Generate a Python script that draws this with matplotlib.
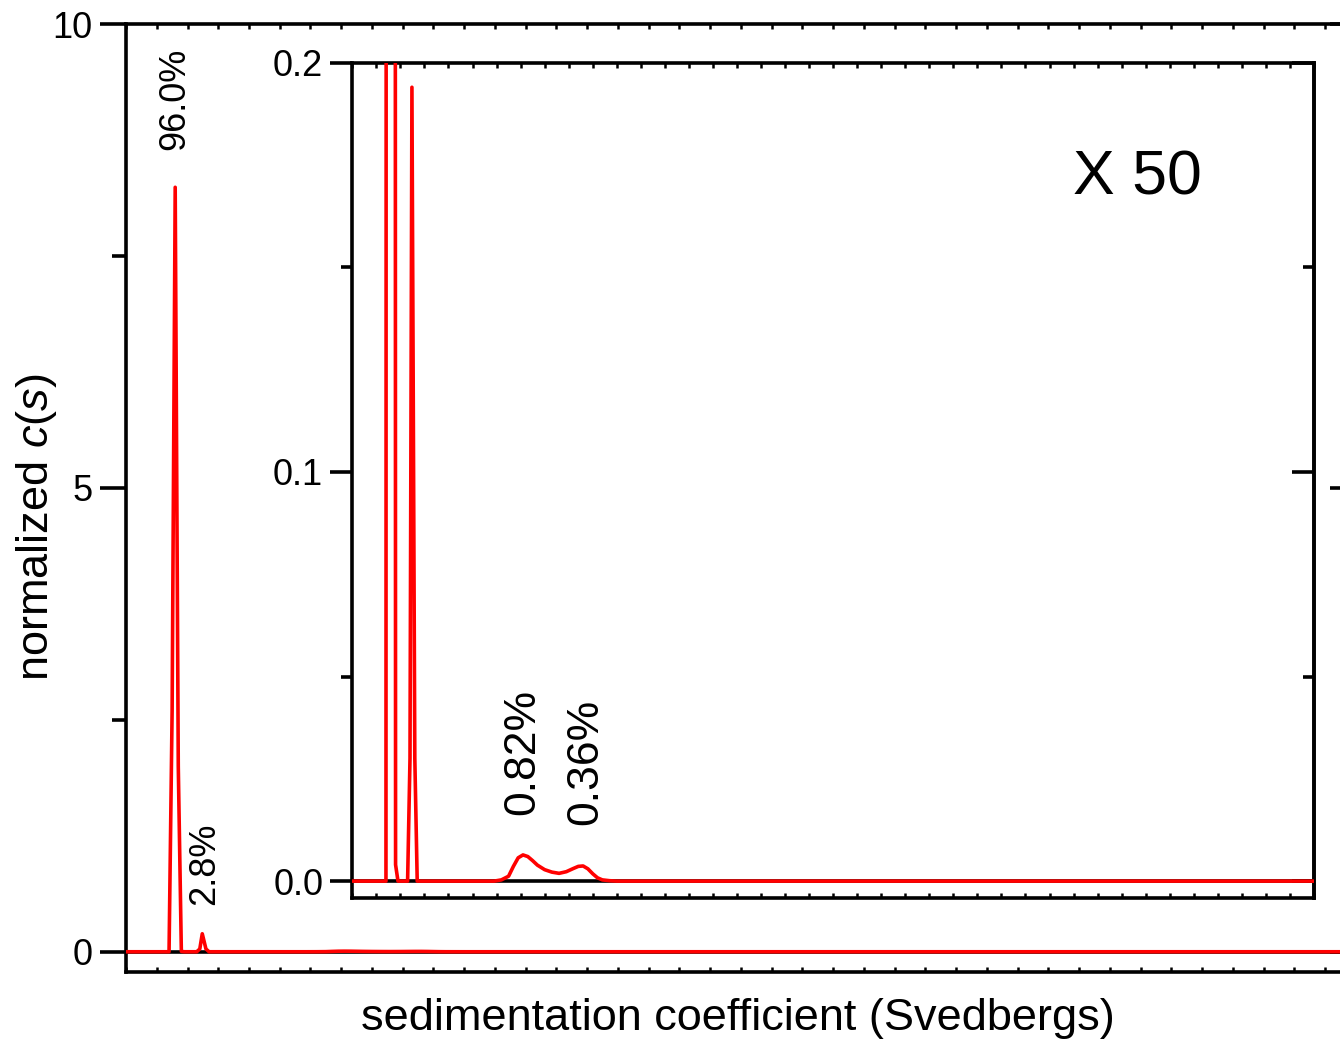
import matplotlib
matplotlib.use("Agg")
import matplotlib.pyplot as plt
from matplotlib.ticker import FixedLocator, NullFormatter

plt.rcParams['font.family'] = ['Liberation Sans', 'DejaVu Sans']
plt.rcParams['mathtext.fontset'] = 'custom'
plt.rcParams['mathtext.rm'] = 'Liberation Sans'
plt.rcParams['mathtext.it'] = 'Liberation Sans:italic'

# c(s) distribution (sedimentation coefficient in S, normalized c(s))
s_values = [0.0, 6.5, 7.0, 7.5, 8.0, 8.5, 9.0, 9.5,
            11.5, 12.0, 12.4, 13.0, 13.5,
            29.5, 31.0, 32.5, 33.5, 34.5, 35.5, 36.5, 37.5, 38.5, 40.0, 41.5, 43.0,
            44.5, 46.0, 47.0, 48.0, 49.0, 50.0, 51.0, 52.0, 53.5, 55.0, 200.0]
cs_values = [0.0, 0.0, 0.0, 2.6, 8.24, 2.0, 0.004, 0.0,
             0.0, 0.03, 0.194, 0.03, 0.0,
             0.0, 0.0003, 0.0012, 0.0036, 0.0057, 0.0064, 0.0060, 0.0050, 0.0039, 0.0028, 0.0022, 0.0019,
             0.0023, 0.0031, 0.0036, 0.0037, 0.0030, 0.0018, 0.0008, 0.0003, 0.0001, 0.0, 0.0]

# peak annotations
main_labels = ['96.0%', '2.8%']
main_label_s = [8.0, 12.85]
main_label_y = [8.64, 0.5]
inset_labels = ['0.82%', '0.36%']
inset_label_s = [35.4, 48.5]
inset_label_y = [0.0161, 0.0137]

main_yticks = [0, 5, 10]
main_yticklabels = ['0', '5', '10']
main_yminor = [2.5, 7.5]
inset_yticks = [0.0, 0.1, 0.2]
inset_yticklabels = ['0.0', '0.1', '0.2']
inset_yminor = [0.05, 0.15]
x_ticks = list(range(0, 201, 5))

W, H = 1340, 1041
fig = plt.figure(figsize=(W / 100, H / 100), dpi=100)

LW = 2.6
RED = '#ff0000'


def style_axes(ax, yticks, ylabels, yminor, major_len, minor_len, pad):
    for sp in ax.spines.values():
        sp.set_linewidth(LW)
    ax.set_xticks(x_ticks)
    ax.xaxis.set_major_formatter(NullFormatter())
    ax.tick_params(axis='x', direction='in', top=True, bottom=True,
                   length=3.5, width=1.8, labelbottom=False)
    ax.set_yticks(yticks)
    ax.set_yticklabels(ylabels)
    ax.yaxis.set_minor_locator(FixedLocator(yminor))
    ax.tick_params(axis='y', which='major', direction='out', left=True, right=False,
                   length=major_len, width=LW, labelsize=26, pad=pad)
    ax.tick_params(axis='y', which='minor', direction='out', left=True, right=False,
                   length=minor_len, width=LW)
    # inward ticks on the right side
    sec = ax.secondary_yaxis('right')
    sec.set_yticks(yticks)
    sec.yaxis.set_minor_locator(FixedLocator(yminor))
    sec.tick_params(axis='y', which='major', direction='in', length=major_len,
                    width=LW, labelright=False)
    sec.tick_params(axis='y', which='minor', direction='in', length=minor_len,
                    width=LW)
    sec.spines['right'].set_linewidth(LW)


# main plot
ax = fig.add_axes([126 / W, 1 - 971.7 / H, 1230 / W, (971.7 - 24) / H])
ax.axhline(0, color='black', lw=LW, zorder=2)
ax.plot(s_values, cs_values, color=RED, lw=LW, zorder=3)
ax.set_xlim(0, 200)
ax.set_ylim(-0.215, 10)
style_axes(ax, main_yticks, main_yticklabels, main_yminor, 19, 10, 5)
for lab, sx, sy in zip(main_labels, main_label_s, main_label_y):
    ax.text(sx, sy, lab, rotation=90, ha='center', va='bottom', fontsize=26)

# zoomed inset
axi = fig.add_axes([352.3 / W, 1 - 898.3 / H, (1314 - 352.3) / W, (898.3 - 62.7) / H])
axi.set_facecolor('white')
axi.axhline(0, color='black', lw=LW, zorder=2)
axi.plot(s_values, cs_values, color=RED, lw=LW, zorder=3)
axi.set_xlim(0, 200)
axi.set_ylim(-0.0042, 0.2)
style_axes(axi, inset_yticks, inset_yticklabels, inset_yminor, 16, 8, 5)
for lab, sx, sy in zip(inset_labels, inset_label_s, inset_label_y):
    axi.text(sx, sy, lab, rotation=90, ha='center', va='bottom', fontsize=32)
axi.text(0.816, 0.862, 'X 50', transform=axi.transAxes, ha='center', va='center',
         fontsize=45)

fig.text(738 / W, (H - 1030) / H, 'sedimentation coefficient (Svedbergs)',
         ha='center', va='baseline', fontsize=32.5)
fig.text(37 / W, 1 - 527 / H, 'normalized $c$($s$)', rotation=90,
         ha='center', va='center', fontsize=32.5)

fig.savefig('out.png', dpi=100)
